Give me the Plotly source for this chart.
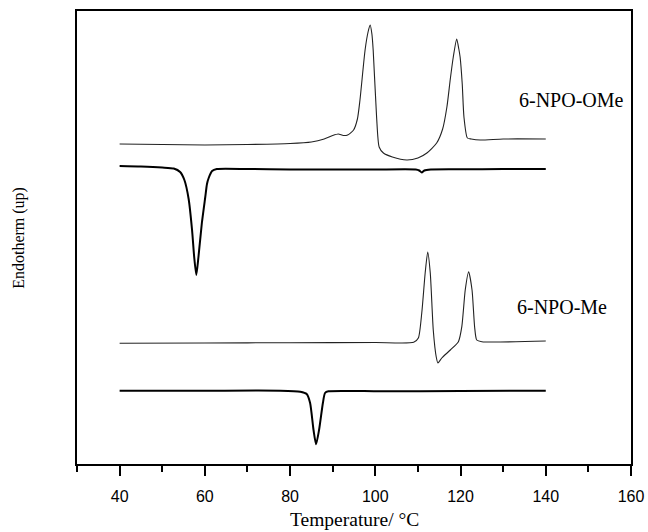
import plotly.graph_objects as go

# --- Data (temperature in °C, signal in arbitrary units; endotherm up) ---
ome_heat_T = [40, 50, 60, 70, 80, 85, 88, 90, 91.3, 92.5, 93.5, 94.9, 95.8, 96.4, 97.6, 98.3, 98.8,
              99.2, 99.5, 100.3, 100.9, 101.9, 104, 107.4, 110, 112.1, 114.4, 115.8, 116.8, 117.6,
              118.3, 119.1, 119.6, 119.9, 120.4, 120.8, 121.6, 122.5, 124.6, 130, 140]
ome_heat_S = [320, 319.5, 319, 319.5, 320.5, 322, 325, 328.5, 330, 328.5, 329, 334, 345, 364, 414, 432, 439,
              430, 414, 347, 317, 311, 307, 304, 306, 311, 321, 335, 357, 385,
              407, 425, 415, 407, 380, 347, 326, 325, 324, 325, 325]

ome_cool_T = [40, 45, 50, 52.7, 54.2, 55.2, 56.2, 57, 57.5, 58, 58.5, 59.3, 60.1, 60.5, 60.9, 61.7, 62.8,
              70, 80, 90, 100, 109.5, 110.3, 110.9, 111.5, 113, 120, 130, 140]
ome_cool_S = [298, 297.5, 296.5, 295.5, 292, 284, 265, 234, 207, 189, 207, 241, 267, 280, 286, 293, 295,
              295, 294.5, 294.5, 294.5, 294.5, 293.5, 291.5, 293.5, 294.5, 294.7, 295, 295]

me_heat_T = [40, 60, 80, 100, 109, 110.1, 110.9, 111.7, 112.3, 112.9, 113.6, 114.3, 114.7, 115.6, 117.6,
             119.5, 120.3, 121.1, 121.9, 122.7, 123.3, 123.8, 125, 140]
me_heat_S = [120.7, 121, 121.3, 121.5, 121.7, 126, 151, 191, 212, 191, 134, 107, 101, 106, 114,
             122.3, 137.3, 174, 192.3, 174, 137.3, 124, 122.3, 123]

me_cool_T = [40, 60, 77.7, 82.4, 83.9, 84.7, 85.5, 86.1, 86.8, 87.7, 88.2, 89, 101, 120, 140]
me_cool_S = [73.3, 73.3, 73.3, 72.3, 70, 61, 34, 19.7, 34, 61, 71, 72.7, 72.7, 73, 73.3]

labels = ["6-NPO-OMe", "6-NPO-Me"]
label_T = [133.2, 132.8]
label_S = [364, 157.3]

x_ticks = [40, 60, 80, 100, 120, 140, 160]
x_title = "Temperature/ °C"
y_title = "Endotherm (up)"

fig = go.Figure()
series = [
    (ome_heat_T, ome_heat_S, 1.1, "#222"),
    (ome_cool_T, ome_cool_S, 2.0, "black"),
    (me_heat_T, me_heat_S, 1.1, "#222"),
    (me_cool_T, me_cool_S, 2.0, "black"),
]
for xs, ys, w, c in series:
    fig.add_trace(go.Scatter(x=xs, y=ys, mode="lines",
                             line=dict(color=c, width=w, shape="spline", smoothing=0.6),
                             showlegend=False, hoverinfo="skip"))

for t, xx, yy in zip(labels, label_T, label_S):
    fig.add_annotation(x=xx, y=yy, xref="x", yref="y", text=t, showarrow=False,
                       xanchor="left", yanchor="middle",
                       font=dict(family="Liberation Serif", size=20, color="black"))

fig.add_annotation(x=0.5, y=-0.1236, xref="paper", yref="paper", text=x_title, showarrow=False,
                   xanchor="center", yanchor="middle",
                   font=dict(family="Liberation Serif", size=19.5, color="black"))
fig.add_annotation(x=-0.1059, y=0.5, xref="paper", yref="paper", text=y_title, showarrow=False,
                   textangle=-90, xanchor="center", yanchor="middle",
                   font=dict(family="Liberation Serif", size=16, color="black"))

fig.update_layout(
    width=648, height=532,
    margin=dict(l=77, r=17, t=11, b=68, autoexpand=False),
    paper_bgcolor="white", plot_bgcolor="white",
    showlegend=False,
)
fig.update_xaxes(
    range=[30, 160], showgrid=False, zeroline=False, automargin=False,
    showline=True, linecolor="black", linewidth=2, mirror=True,
    ticks="outside", ticklen=10, tickwidth=2, tickcolor="black",
    tickvals=x_ticks, ticktext=[str(v) for v in x_ticks],
    tickfont=dict(family="Liberation Sans", size=16, color="black"),
    ticklabelstandoff=7,
    minor=dict(ticks="outside", ticklen=6, tickwidth=2, tickcolor="black", tick0=30, dtick=10),
)
fig.update_yaxes(
    range=[0, 453], showgrid=False, zeroline=False, automargin=False,
    showline=True, linecolor="black", linewidth=2, mirror=True,
    ticks="", showticklabels=False,
)

# remove the browser's default body margin so the figure fills the window exactly
fig.write_html(
    "out.html",
    config={"displayModeBar": False, "staticPlot": True},
    post_script="document.body.style.margin='0';document.body.style.overflow='hidden';"
                "document.documentElement.style.overflow='hidden';",
)
